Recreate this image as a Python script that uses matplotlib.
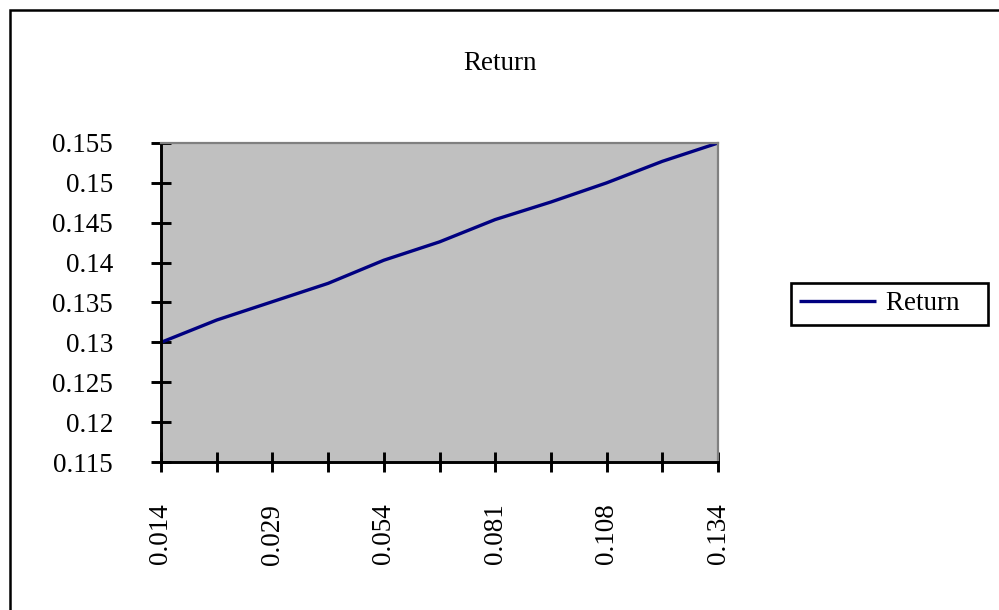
import matplotlib.pyplot as plt
from matplotlib.patches import Rectangle

# data
values = [0.130, 0.1328, 0.1351, 0.1374, 0.1403, 0.1426, 0.1454, 0.1476, 0.150, 0.1527, 0.155]
tick_labels = ['0.014', '0.029', '0.054', '0.081', '0.108', '0.134']
series_name = 'Return'

plt.rcParams['font.family'] = ['Liberation Serif', 'DejaVu Serif']
fs = 19.5

W, H = 999, 610
fig = plt.figure(figsize=(W / 100, H / 100), dpi=100)

# outer chart border (right/bottom run off the picture)
fig.patches.append(Rectangle((10 / W, -0.1), 1.2, 1 - 10 / H + 0.1, transform=fig.transFigure,
                             fill=False, edgecolor='black', linewidth=1.8))

ax = fig.add_axes([161 / W, (H - 462) / H, (718 - 161) / W, (462 - 143) / H])
ax.set_facecolor('#C0C0C0')

x = list(range(len(values)))
ax.plot(x, values, color='#000080', linewidth=2.4, label=series_name, solid_capstyle='butt')

ax.set_xlim(0, len(values) - 1)
ax.set_ylim(0.115, 0.155)

ax.set_yticks([0.115, 0.12, 0.125, 0.13, 0.135, 0.14, 0.145, 0.15, 0.155])
ax.set_yticklabels(['0.115', '0.12', '0.125', '0.13', '0.135', '0.14', '0.145', '0.15', '0.155'], fontsize=fs)

# labels only on every other category
labels = []
for i in x:
    labels.append(tick_labels[i // 2] if i % 2 == 0 else '')
ax.set_xticks(x)
ax.set_xticklabels(labels, rotation=90, fontsize=fs)

ax.tick_params(axis='y', direction='inout', length=15, width=2.1, pad=27, color='black')
ax.tick_params(axis='x', direction='inout', length=14, width=2.1, pad=23, color='black')

for s in ['left', 'bottom']:
    ax.spines[s].set_color('black')
    ax.spines[s].set_linewidth(2.1)
for s in ['top', 'right']:
    ax.spines[s].set_color('#808080')
    ax.spines[s].set_linewidth(1.6)

fig.text(500 / W, 1 - 63 / H, 'Return', ha='center', va='center', fontsize=fs)

leg = ax.legend(loc='center left', bbox_to_anchor=(791 / W, 1 - 304 / H), bbox_transform=fig.transFigure,
                fontsize=fs, frameon=True, fancybox=False, framealpha=1, edgecolor='black',
                handlelength=2.85, handletextpad=0.37, borderpad=0.3, borderaxespad=0)
leg.get_frame().set_linewidth(1.9)
leg.get_texts()[0].set_text('Return   ')

fig.savefig('out.png', dpi=100)
